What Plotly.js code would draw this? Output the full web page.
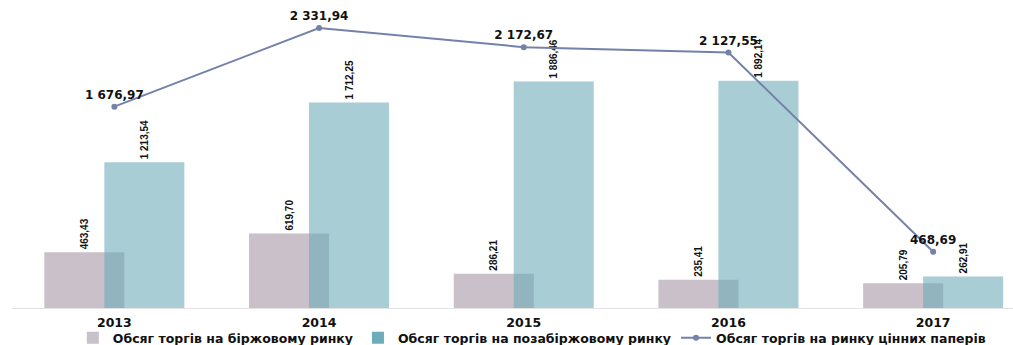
<!DOCTYPE html>
<html>
<head>
<meta charset="utf-8">
<script src="https://cdn.plot.ly/plotly-3.0.1.min.js"></script>
<style>html,body{margin:0;padding:0;background:#fff;}#chart{width:1013px;height:345px;}</style>
</head>
<body>
<div id="chart"></div>
<script>
var years = ["2013", "2014", "2015", "2016", "2017"];
var exchangeVolume = [463.43, 619.70, 286.21, 235.41, 205.79];
var otcVolume = [1213.54, 1712.25, 1886.46, 1892.14, 262.91];
var totalVolume = [1676.97, 2331.94, 2172.67, 2127.55, 468.69];
var seriesNames = [
  "Обсяг торгів на біржовому ринку",
  "Обсяг торгів на позабіржовому ринку",
  "Обсяг торгів на ринку цінних паперів"
];

var barW = 0.391;
var barFont = {family: "Liberation Sans, Arial, sans-serif", size: 10, color: "#111", weight: "bold"};
var lineLabelFont = {family: "DejaVu Sans, sans-serif", size: 12, color: "#111", weight: "bold"};
var tickFont = {family: "DejaVu Sans, sans-serif", size: 12.5, color: "#111", weight: "bold"};

var traces = [
  {
    type: "bar", name: seriesNames[0], x: years, y: exchangeVolume,
    width: barW, offset: -0.342,
    marker: {color: "#c9c0c9"},
    texttemplate: "%{y:,.2f}", textposition: "outside", textangle: -90,
    textfont: barFont, cliponaxis: false, hoverinfo: "skip"
  },
  {
    type: "bar", name: seriesNames[1], x: years, y: otcVolume,
    width: barW, offset: -0.049,
    marker: {color: "rgb(110,172,185)", opacity: 0.6},
    texttemplate: "%{y:,.2f}", textposition: "outside", textangle: -90,
    textfont: barFont, cliponaxis: false, hoverinfo: "skip"
  },
  {
    type: "scatter", mode: "lines+markers+text", name: seriesNames[2],
    x: years, y: totalVolume,
    line: {color: "#7482aa", width: 2},
    marker: {color: "#7482aa", size: 6},
    texttemplate: "%{y:,.2f}", textposition: "top center",
    textfont: lineLabelFont, cliponaxis: false, hoverinfo: "skip"
  }
];

var layout = {
  width: 1013, height: 345,
  margin: {l: 12, r: 0, t: 10, b: 37, autoexpand: false},
  paper_bgcolor: "#fff", plot_bgcolor: "#fff",
  barmode: "overlay",
  separators: ", ",
  showlegend: true,
  legend: {
    orientation: "h", xref: "container", yref: "paper",
    x: 0.525, xanchor: "center", y: -0.1007, yanchor: "middle",
    bgcolor: "rgba(0,0,0,0)",
    font: {family: "DejaVu Sans, sans-serif", size: 12.5, color: "#111", weight: "bold"},
    itemwidth: 30, tracegroupgap: 0, traceorder: "normal"
  },
  xaxis: {
    type: "category", range: [-0.5, 4.39],
    showgrid: false, zeroline: false, showline: true, linecolor: "#e3e3e3", linewidth: 1,
    ticks: "", ticklabelstandoff: 3, tickfont: tickFont, fixedrange: true, automargin: false
  },
  yaxis: {
    range: [0, 2482], visible: false, showgrid: false, zeroline: false, fixedrange: true
  }
};

Plotly.newPlot("chart", traces, layout, {displayModeBar: false, staticPlot: true});
</script>
</body>
</html>
